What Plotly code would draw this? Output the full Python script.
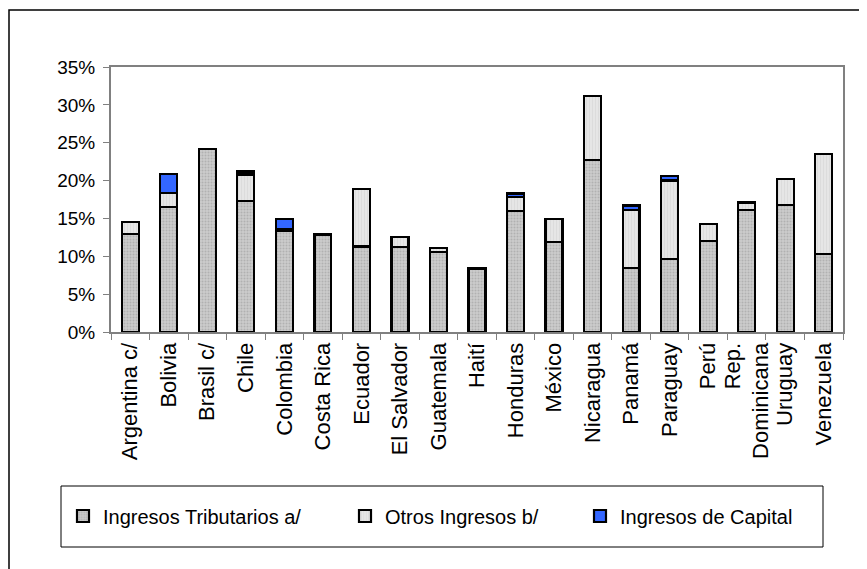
import plotly.graph_objects as go

countries = ["Argentina c/", "Bolivia", "Brasil c/", "Chile", "Colombia", "Costa Rica",
             "Ecuador", "El Salvador", "Guatemala", "Haití", "Honduras", "México",
             "Nicaragua", "Panamá", "Paraguay", "Perú", "Rep.<br>Dominicana",
             "Uruguay", "Venezuela"]
tributarios = [12.9, 16.5, 24.2, 17.3, 13.3, 12.8, 11.3, 11.2, 10.6, 8.4, 16.0, 11.9,
               22.7, 8.5, 9.6, 12.0, 16.1, 16.8, 10.3]
otros = [1.6, 1.9, 0.0, 3.5, 0.3, 0.15, 7.6, 1.4, 0.5, 0.0, 1.8, 3.0,
         8.5, 7.6, 10.4, 2.3, 0.9, 3.4, 13.2]
capital = [0.0, 2.5, 0.0, 0.4, 1.3, 0.0, 0.0, 0.0, 0.0, 0.0, 0.5, 0.0,
           0.0, 0.6, 0.6, 0.0, 0.15, 0.0, 0.0]
series_names = ["Ingresos Tributarios a/", "Otros Ingresos b/", "Ingresos de Capital"]
y_ticks = [0, 5, 10, 15, 20, 25, 30, 35]
y_tick_labels = [f"{v}%" for v in y_ticks]

FONT = "Liberation Sans, Arial, sans-serif"
OFF = 8  # page body margin
FIG_W, FIG_H = 867 - OFF, 569 - OFF


def nz(vals):
    return [v if v else None for v in vals]


fig = go.Figure()
fig.add_trace(go.Bar(
    x=countries, y=tributarios, name=series_names[0], legend="legend",
    marker=dict(color="#c4c4c4", line=dict(color="black", width=2.2),
                pattern=dict(shape=".", fgcolor="#959595", bgcolor="#cccccc",
                             size=3, solidity=0.35)),
))
fig.add_trace(go.Bar(
    x=countries, y=nz(otros), name=series_names[1], legend="legend2",
    marker=dict(color="#e2e2e2", line=dict(color="black", width=2.2),
                pattern=dict(shape="|", fgcolor="#d0d0d0", bgcolor="#e6e6e6",
                             size=3, solidity=0.3)),
))
fig.add_trace(go.Bar(
    x=countries, y=nz(capital), name=series_names[2], legend="legend3",
    marker=dict(color="#3366ff", line=dict(color="black", width=2.2)),
))

# plot area in figure pixels (screen minus body offset)
L, R, T, B = 111 - OFF, 843 - OFF, 67 - OFF, 332 - OFF
W, H = R - L, B - T


def px_x(p):
    return (p - OFF - L) / W


def px_y(p):
    return (B - (p - OFF)) / H


# outer chart frame
fig.add_shape(type="rect", xref="paper", yref="paper",
              x0=px_x(9), x1=px_x(890), y0=px_y(10), y1=px_y(600),
              line=dict(color="black", width=1.5), layer="below")
# legend frame
fig.add_shape(type="rect", xref="paper", yref="paper",
              x0=px_x(61), x1=px_x(823), y0=px_y(486), y1=px_y(547),
              line=dict(color="black", width=1), fillcolor="white", layer="below")


def legend_at(xpix):
    return dict(orientation="h", x=px_x(xpix), xanchor="left",
                y=px_y(516), yanchor="middle", borderwidth=0,
                bgcolor="rgba(0,0,0,0)", font=dict(size=20, family=FONT))


fig.update_layout(
    width=FIG_W, height=FIG_H,
    margin=dict(l=L, r=FIG_W - R, t=T, b=FIG_H - B),
    barmode="stack", bargap=0.56,
    paper_bgcolor="white", plot_bgcolor="white",
    font=dict(family=FONT, color="black", size=19),
    showlegend=True,
    legend=legend_at(63),
    legend2=legend_at(345),
    legend3=legend_at(580),
    xaxis=dict(
        type="category", showline=True, linecolor="#808080", linewidth=2,
        mirror=True, ticks="outside", tickson="boundaries", ticklen=6,
        tickcolor="#808080", tickangle=-90, tickfont=dict(size=22, family=FONT),
        showgrid=False, zeroline=False,
    ),
    yaxis=dict(
        range=[0, 35], tickvals=y_ticks, ticktext=y_tick_labels, showline=True,
        linecolor="#808080", linewidth=2, mirror=True, ticks="outside",
        ticklen=6, tickcolor="#808080", showgrid=False, zeroline=False,
        tickfont=dict(size=19, family=FONT), ticklabelstandoff=4,
    ),
)

fig.write_html("out.html")
